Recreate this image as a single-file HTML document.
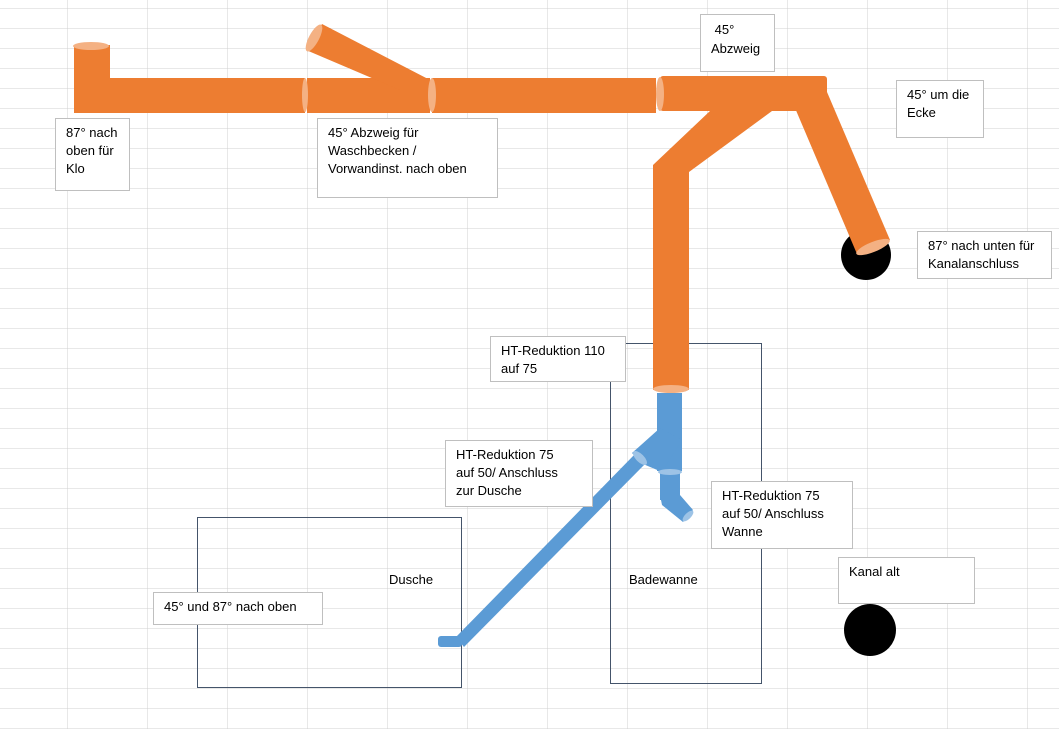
<!DOCTYPE html>
<html><head><meta charset="utf-8"><style>
body{margin:0;width:1059px;height:729px;overflow:hidden;background:#fff;font-family:"Liberation Sans",sans-serif;}
svg{position:absolute;left:0;top:0}
.b{position:absolute;background:#fff;border:1px solid #bfbfbf;font-size:13px;line-height:18px;color:#000;padding:5px 10px;box-sizing:border-box}
.t{position:absolute;font-size:13px;color:#000}
</style></head><body>
<svg width="1059" height="729">
<defs>
<pattern id="g" width="80" height="20" patternUnits="userSpaceOnUse" x="67" y="8">
<path d="M0 0V20M0 0H80" stroke="#d0d0d0" stroke-width="1" fill="none"/>
</pattern>
</defs>
<rect width="1059" height="729" fill="url(#g)"/>
<rect x="197.5" y="517.5" width="264" height="170" fill="none" stroke="#44546a"/>
<rect x="610.5" y="343.5" width="151" height="340" fill="none" stroke="#44546a"/>
<circle cx="866" cy="255" r="25" fill="#000"/>
<g fill="#ed7d31">
<rect x="74" y="45" width="36" height="68"/>
<rect x="77" y="78" width="228" height="35"/>
<rect x="307" y="78" width="123" height="35"/>
<polygon points="306,50 322,24 430,80 430,90 400,90"/>
<rect x="432" y="78" width="224" height="35"/>
<rect x="660" y="76" width="167" height="35" rx="3"/>
<polygon points="710,111 772,111 689,172 689,390 653,390 653,165"/>
<polygon points="795,108 827,92 890,240 857,254"/>
</g>
<g fill="#f4b183">
<ellipse cx="91" cy="46" rx="18" ry="4"/>
<ellipse cx="314" cy="38" rx="5" ry="15" transform="rotate(28 314 38)"/>
<ellipse cx="305" cy="95" rx="3" ry="17"/>
<ellipse cx="432" cy="95" rx="4" ry="17"/>
<ellipse cx="660" cy="94" rx="4" ry="17"/>
<ellipse cx="873" cy="247" rx="18" ry="5" transform="rotate(-22 873 247)"/>
<ellipse cx="671" cy="389" rx="18" ry="4"/>
</g>
<circle cx="870" cy="630" r="26" fill="#000"/>
<g fill="#5b9bd5">
<rect x="657" y="393" width="25" height="78"/>
<polygon points="660,428 682,440 662,472 643,464 632,453"/>
<rect x="660" y="470" width="20" height="30"/>
<polygon points="660,495 680,495 693,510 683,522 662,505"/>
<polygon points="636,453 646,463 464,647 456,637"/>
<rect x="438" y="636" width="24" height="11" rx="3"/>
</g>
<g fill="#9dc3e6">
<ellipse cx="640" cy="458" rx="9" ry="4" transform="rotate(45 640 458)"/>
<ellipse cx="670" cy="472" rx="12" ry="3"/>
<ellipse cx="688" cy="516" rx="7" ry="3" transform="rotate(-45 688 516)"/>
</g>
</svg>
<div class="b" style="left:55px;top:118px;width:75px;height:73px">87° nach<br>oben für<br>Klo</div>
<div class="b" style="left:317px;top:118px;width:181px;height:80px">45° Abzweig für<br>Waschbecken /<br>Vorwandinst. nach oben</div>
<div class="b" style="left:700px;top:14px;width:75px;height:58px;line-height:19px">&nbsp;45°<br>Abzweig</div>
<div class="b" style="left:896px;top:80px;width:88px;height:58px">45° um die<br>Ecke</div>
<div class="b" style="left:917px;top:231px;width:135px;height:48px">87° nach unten für<br>Kanalanschluss</div>
<div class="b" style="left:490px;top:336px;width:136px;height:46px">HT-Reduktion 110<br>auf 75</div>
<div class="b" style="left:445px;top:440px;width:148px;height:67px">HT-Reduktion 75<br>auf 50/ Anschluss<br>zur Dusche</div>
<div class="b" style="left:711px;top:481px;width:142px;height:68px">HT-Reduktion 75<br>auf 50/ Anschluss<br>Wanne</div>
<div class="b" style="left:838px;top:557px;width:137px;height:47px">Kanal alt</div>
<div class="b" style="left:153px;top:592px;width:170px;height:33px">45° und 87° nach oben</div>
<div class="t" style="left:389px;top:572px">Dusche</div>
<div class="t" style="left:629px;top:572px">Badewanne</div>
</body></html>
